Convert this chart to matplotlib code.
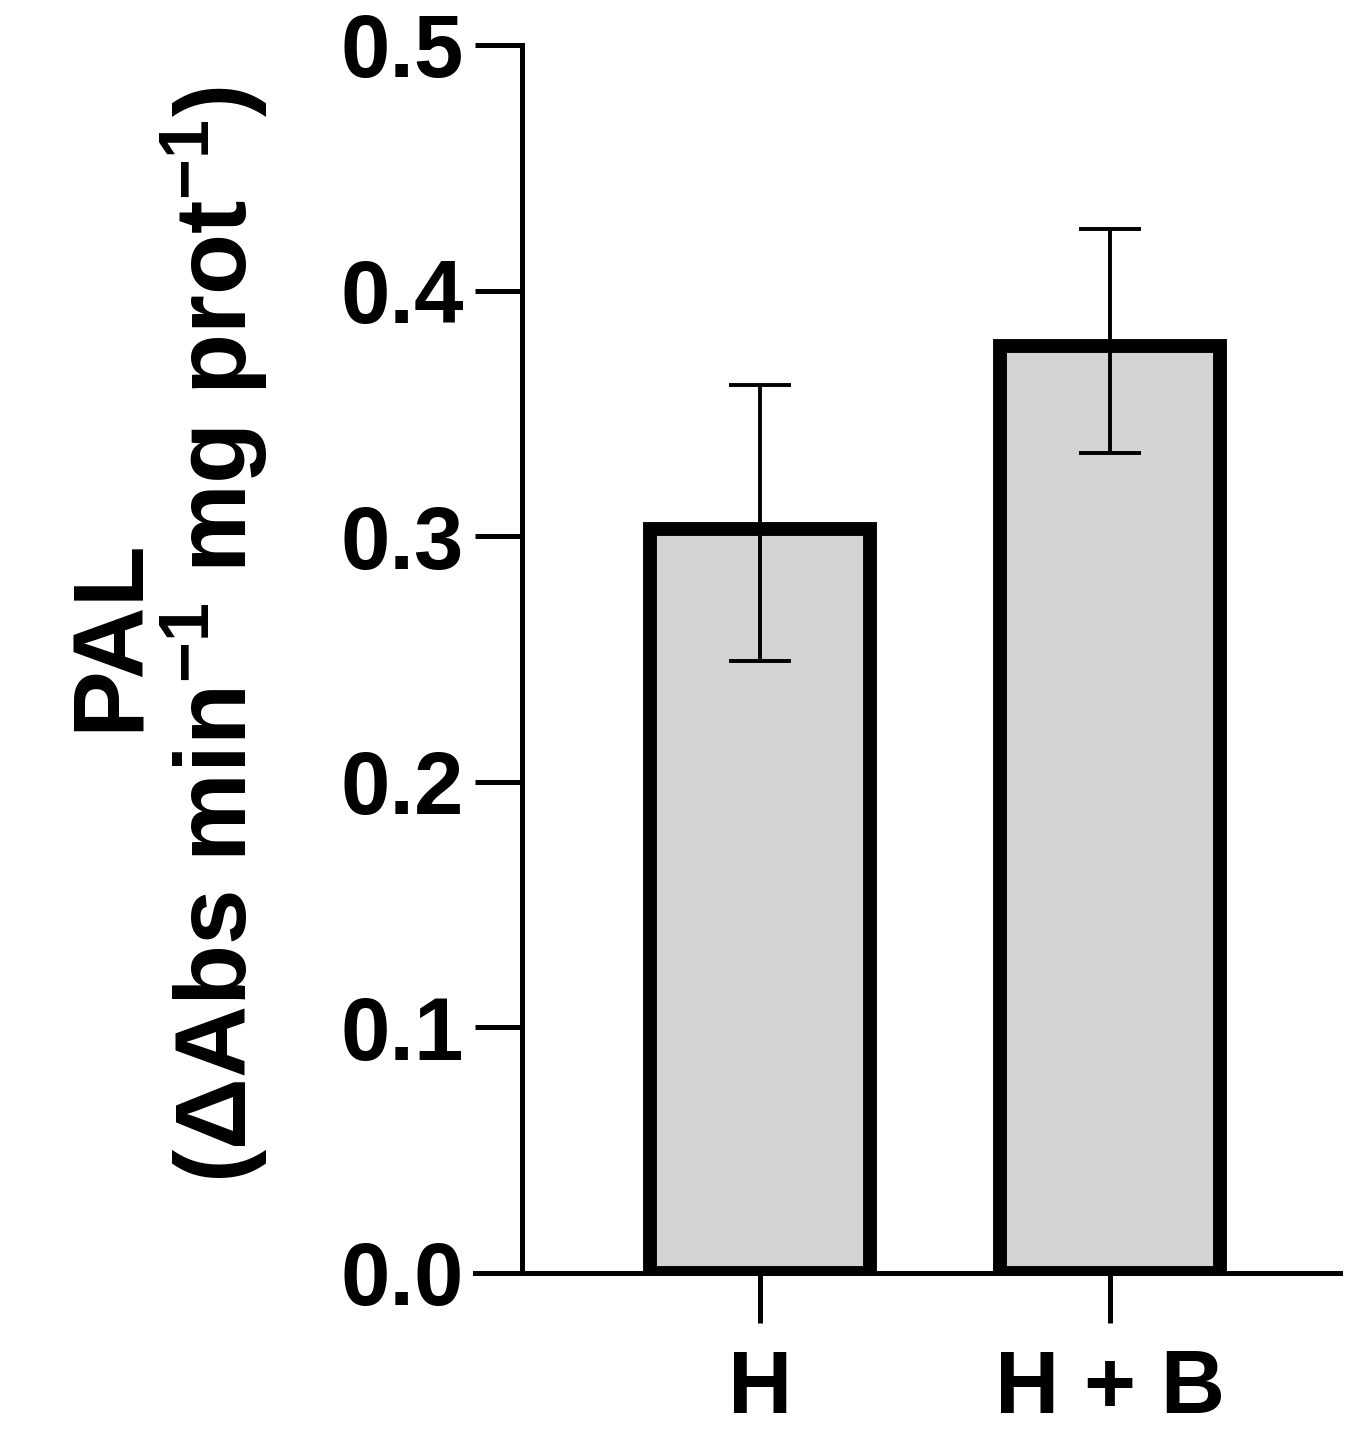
import matplotlib
matplotlib.use('Agg')
import matplotlib.pyplot as plt

categories = ['H', 'H + B']
means = [0.303, 0.3775]
err_upper = [0.0585, 0.0475]
err_lower = [0.054, 0.0435]

plt.rcParams['font.family'] = ['Liberation Sans', 'DejaVu Sans']
plt.rcParams['font.weight'] = 'bold'
plt.rcParams['mathtext.fontset'] = 'custom'
plt.rcParams['mathtext.rm'] = 'Liberation Sans:bold'
plt.rcParams['mathtext.it'] = 'Liberation Sans:bold'
plt.rcParams['mathtext.bf'] = 'Liberation Sans:bold'

fig = plt.figure(figsize=(13.67, 14.49), dpi=100)
ax = fig.add_axes([0.3475, 0.1215, 0.98 - 0.3475, 0.969 - 0.1215])

x = range(len(categories))
ax.bar(x, means, width=0.63, color='#d3d3d3', edgecolor='black', linewidth=10, zorder=2)
ax.errorbar(x, means, yerr=[err_lower, err_upper], fmt='none', ecolor='black',
            elinewidth=2.8, capsize=22, capthick=2.8, zorder=3)

ax.set_xlim(-0.814, 1.657)
ax.set_ylim(0, 0.5)
ax.spines['left'].set_position(('data', -0.68))
ax.spines['left'].set_bounds(0, 0.5)
for s in ['top', 'right']:
    ax.spines[s].set_visible(False)
for s in ['left', 'bottom']:
    ax.spines[s].set_linewidth(3.6)

ax.set_yticks([0, 0.1, 0.2, 0.3, 0.4, 0.5])
ax.set_yticklabels(['0.0', '0.1', '0.2', '0.3', '0.4', '0.5'])
ax.set_xticks(list(x))
ax.set_xticklabels(categories)
ax.tick_params(axis='y', length=34, width=3.6, labelsize=64, pad=8)
ax.tick_params(axis='x', length=36, width=3.6, labelsize=64, pad=18)

ax.set_ylabel('PAL\n(ΔAbs min$^{-1}$ mg prot$^{-1}$)', fontsize=72, fontweight='bold',
              linespacing=1.0)
ax.yaxis.set_label_coords(-0.237, 0.52)

fig.savefig('out.png', dpi=100)
